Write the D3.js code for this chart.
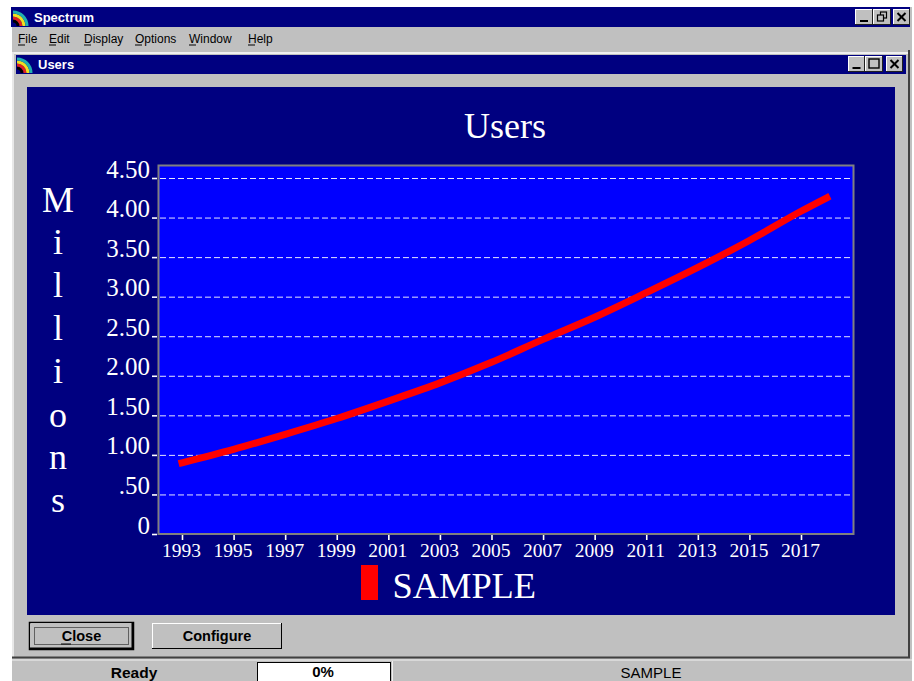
<!DOCTYPE html>
<html><head><meta charset="utf-8">
<script src="https://cdn.jsdelivr.net/npm/d3@7/dist/d3.min.js"></script>
<style>html,body{margin:0;padding:0;background:#fff}svg{display:block}</style>
</head><body><svg id="c" width="914" height="681"></svg>
<script>
const years = [1993,1995,1997,1999,2001,2003,2005,2007,2009,2011,2013,2015,2017,2018];
const users = [0.90,1.07,1.26,1.46,1.68,1.91,2.17,2.46,2.74,3.05,3.37,3.71,4.08,4.25];
const xTickYears = [1993,1995,1997,1999,2001,2003,2005,2007,2009,2011,2013,2015,2017];
const yTicks = [0,0.5,1,1.5,2,2.5,3,3.5,4,4.5];
const yTickLabels = ["0",".50","1.00","1.50","2.00","2.50","3.00","3.50","4.00","4.50"];
const yTitleLetters = ["M","i","l","l","i","o","n","s"];
const menuItems = ["File","Edit","Display","Options","Window","Help"];
const chartTitle = "Users", seriesName = "SAMPLE", appName = "Spectrum";

const svg = d3.select("#c");
const ui = "'Liberation Sans',Arial,sans-serif", serif = "'Liberation Serif','Times New Roman',serif";
const rect=(x,y,w,h,f,s)=>svg.append("rect").attr("x",x).attr("y",y).attr("width",w).attr("height",h).attr("fill",f).attr("stroke",s||"none");
const text=(x,y,t,size,fill,opt={})=>svg.append("text").attr("x",x).attr("y",y).text(t).attr("font-size",size).attr("fill",fill)
  .attr("font-family",opt.family||ui).attr("font-weight",opt.weight||"normal").attr("text-anchor",opt.anchor||"start");
const line=(x1,y1,x2,y2,s,w=1)=>svg.append("line").attr("x1",x1).attr("y1",y1).attr("x2",x2).attr("y2",y2).attr("stroke",s).attr("stroke-width",w);

// window chrome
rect(12,7,900,674,"#c0c0c0");
rect(11,7,899,20,"#000080");
rect(12,52,896,2,"#f0f0f0");
rect(12,52,2,606,"#e8e8e8");
rect(908,50,2,608,"#404040");
rect(16,55,890,19,"#000080");
rect(27,87,868,528,"#000080");
line(12,657.5,910,657.5,"#404040",2);
line(12,660,912,660,"#f0f0f0",1);

function icon(cx,cy){
  [["#000",5],["#e02020",8],["#f0e020",11],["#20b0b0",14]].forEach(([c,r])=>{
    svg.append("path").attr("d",`M${cx},${cy-r} A${r},${r} 0 0 1 ${cx+r},${cy}`).attr("fill","none").attr("stroke",c).attr("stroke-width",3);
  });
}
icon(13,26); icon(17,73);
text(34,22,appName,13,"#fff",{weight:"bold"});
text(38,69,chartTitle,13,"#fff",{weight:"bold"});

const menuX=[18,49,84,135,189,248];
menuItems.forEach((m,i)=>{
  text(menuX[i],43,m,12,"#000");
  line(menuX[i],45,menuX[i]+7,45,"#000");
});

function winBtn(x,y,w,h,glyph){
  rect(x,y,w,h,"#c0c0c0");
  line(x,y+.5,x+w,y+.5,"#fff"); line(x+.5,y,x+.5,y+h,"#fff");
  line(x,y+h-.5,x+w,y+h-.5,"#202020"); line(x+w-.5,y,x+w-.5,y+h,"#202020");
  const cx=x+w/2, cy=y+h/2;
  if(glyph==="min") rect(cx-4,cy+3,8,2,"#000");
  if(glyph==="max"){svg.append("rect").attr("x",cx-5).attr("y",cy-5).attr("width",10).attr("height",9).attr("fill","none").attr("stroke","#000").attr("stroke-width",1.4);}
  if(glyph==="close"){line(cx-4,cy-4,cx+4,cy+4,"#000",2);line(cx+4,cy-4,cx-4,cy+4,"#000",2);}
  if(glyph==="restore"){
    svg.append("rect").attr("x",cx-1.5).attr("y",cy-5).attr("width",6).attr("height",6).attr("fill","none").attr("stroke","#000").attr("stroke-width",1.2);
    svg.append("rect").attr("x",cx-4.5).attr("y",cy-2).attr("width",6).attr("height",6).attr("fill","#c0c0c0").attr("stroke","#000").attr("stroke-width",1.2);
  }
}
winBtn(855,9,18,16,"min");winBtn(873,9,18,16,"restore");winBtn(893,9,17,16,"close");
winBtn(848,56,17,16,"min");winBtn(865,56,18,16,"max");winBtn(886,56,17,16,"close");

// chart
const x=d3.scaleLinear().domain([1993,2017]).range([182,801]);
const y=d3.scaleLinear().domain([0,4.5]).range([534,178]);
rect(158,166,695,368,"#0000ff");
svg.append("g").selectAll("line").data(yTicks.slice(1)).join("line")
  .attr("x1",160).attr("x2",852).attr("y1",d=>y(d)+.5).attr("y2",d=>y(d)+.5)
  .attr("stroke","#e4e4ff").attr("stroke-width",1).attr("stroke-dasharray","6 3");
svg.append("rect").attr("x",158.5).attr("y",165.5).attr("width",695).attr("height",368.5).attr("fill","none").attr("stroke","#808080").attr("stroke-width",2);

// y ticks
svg.append("g").selectAll("line").data(yTicks).join("line")
  .attr("x1",152).attr("x2",157).attr("y1",d=>y(d)+.5).attr("y2",d=>y(d)+.5).attr("stroke","#fff").attr("stroke-width",1.6);
svg.append("g").selectAll("text").data(yTicks).join("text")
  .attr("x",150).attr("y",d=>y(d)-.5).attr("text-anchor","end").attr("fill","#fff")
  .attr("font-family",serif).attr("font-size",25)
  .text((d,i)=>yTickLabels[i]);
// x ticks
svg.append("g").selectAll("line").data(xTickYears).join("line")
  .attr("x1",d=>x(d)+.5).attr("x2",d=>x(d)+.5).attr("y1",535).attr("y2",540).attr("stroke","#fff").attr("stroke-width",1.6);
svg.append("g").selectAll("text").data(xTickYears).join("text")
  .attr("x",d=>x(d)-.5).attr("y",557).attr("text-anchor","middle").attr("fill","#fff")
  .attr("font-family",serif).attr("font-size",19.5).text(d=>d);

const gen=d3.line().x((d,i)=>x(years[i])).y(d=>y(d)).curve(d3.curveMonotoneX);
svg.append("path").datum(users).attr("d",gen).attr("fill","none").attr("stroke","#ff0000").attr("stroke-width",7).attr("stroke-linecap","square");

text(505,138,chartTitle,36,"#fff",{family:serif,anchor:"middle"});
const letterY=[212,254,297,340,383,427,469,512];
yTitleLetters.forEach((l,i)=>text(58,letterY[i],l,36,"#fff",{family:serif,anchor:"middle"}));

rect(361,565,17,35,"#ff0000");
text(392.5,598,seriesName,36.4,"#fff",{family:serif});

// buttons
function btn(x0,y0,w,h,t,def){
  rect(x0,y0,w,h,"#c0c0c0");
  line(x0,y0+.5,x0+w,y0+.5,"#fff");line(x0+.5,y0,x0+.5,y0+h,"#fff");
  line(x0,y0+h-.5,x0+w,y0+h-.5,"#000",def?2:1);line(x0+w-.5,y0,x0+w-.5,y0+h,"#000",def?2:1);
  if(def){
    svg.append("rect").attr("x",x0-.5).attr("y",y0-.5).attr("width",w+1).attr("height",h+1).attr("fill","none").attr("stroke","#000").attr("stroke-width",1.5);
    svg.append("rect").attr("x",x0+4.5).attr("y",y0+4.5).attr("width",w-9).attr("height",h-9).attr("fill","none").attr("stroke","#000").attr("stroke-dasharray","1 1");
  }
  text(x0+w/2,y0+18,t,14.5,"#000",{weight:"bold",anchor:"middle"});
}
btn(30,623,103,26,"Close",true);
btn(152,623,130,26,"Configure",false);
line(61,644,71,644,"#000",1);

// status bar
rect(257,663,133,18,"#fff");
svg.append("rect").attr("x",257.5).attr("y",662.5).attr("width",133).attr("height",20).attr("fill","none").attr("stroke","#000");
line(392.5,661,392.5,681,"#f0f0f0");
text(134,678,"Ready",15.5,"#000",{weight:"bold",anchor:"middle"});
text(323,677,"0%",15,"#000",{weight:"bold",anchor:"middle"});
text(651,678,seriesName,15,"#000",{anchor:"middle"});
</script></body></html>
